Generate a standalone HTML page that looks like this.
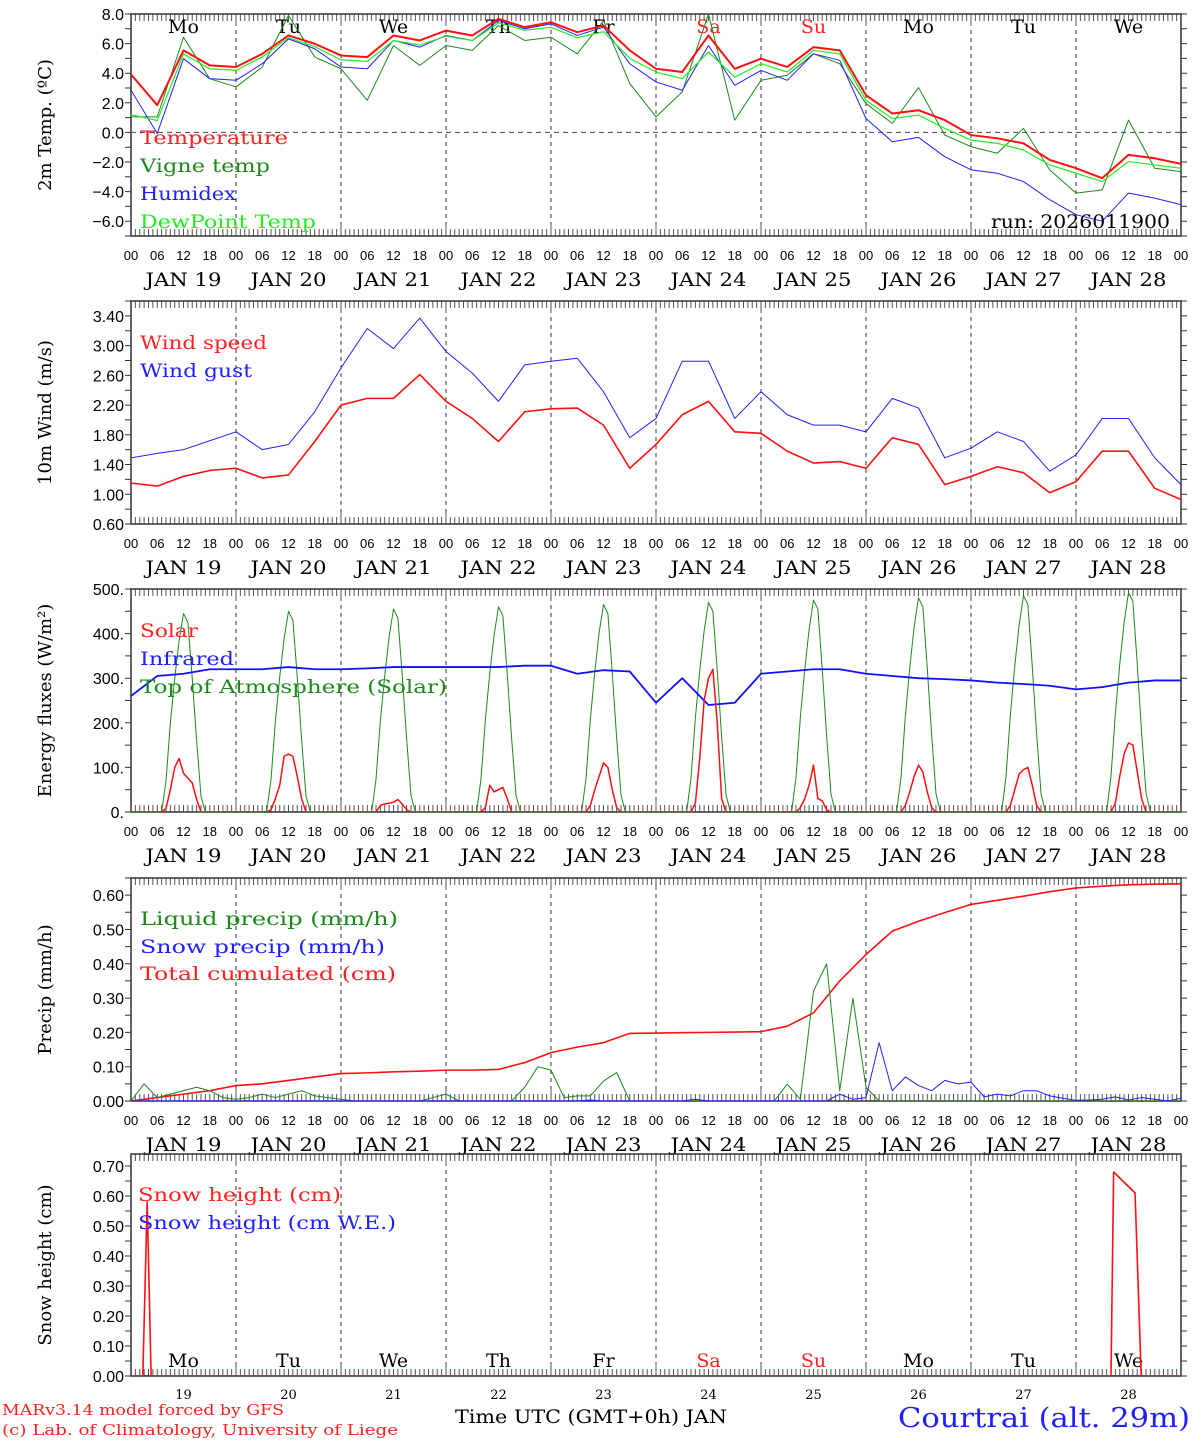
<!DOCTYPE html>
<html><head><meta charset="utf-8"><title>MAR meteogram Courtrai</title>
<style>
html,body{margin:0;padding:0;background:#fff;}
svg{display:block;}
text{font-family:"DejaVu Serif","Liberation Serif",serif;}
.tk{font-family:"Liberation Sans",sans-serif;font-size:13px;}
.yl{font-family:"Liberation Sans",sans-serif;font-size:16px;}
</style></head>
<body>
<svg id="chart" width="1194" height="1440" viewBox="0 0 1194 1440" xmlns="http://www.w3.org/2000/svg"></svg>
<script>
// ---------- data (6-hourly unless noted) ----------
const dayLabels = ["JAN 19","JAN 20","JAN 21","JAN 22","JAN 23","JAN 24","JAN 25","JAN 26","JAN 27","JAN 28"];
const dayNums = ["19","20","21","22","23","24","25","26","27","28"];
const weekdays = ["Mo","Tu","We","Th","Fr","Sa","Su","Mo","Tu","We"];
const hourTicks = ["00","06","12","18"];
const tempVals = [3.92,1.84,5.54,4.53,4.42,5.31,6.55,5.99,5.20,5.09,6.55,6.21,6.88,6.55,7.67,7.11,7.44,6.77,7.22,5.54,4.30,4.08,6.55,4.30,4.98,4.42,5.76,5.54,2.51,1.28,1.50,0.83,-0.18,-0.40,-0.74,-1.86,-2.42,-3.09,-1.52,-1.75,-2.13];
const vigneVals = [1.05,1.05,6.43,3.63,3.07,4.42,7.9,5.09,4.30,2.17,5.87,4.53,5.87,5.54,7.22,6.21,6.43,5.31,7.55,3.30,1.05,2.74,8.0,0.83,3.52,3.86,5.31,4.64,1.95,0.61,3.03,-0.18,-0.96,-1.41,0.27,-2.53,-4.10,-3.88,0.83,-2.42,-2.65];
const humidexVals = [2.85,-0.07,4.98,3.63,3.52,4.64,6.32,5.65,4.42,4.30,6.21,5.76,6.55,6.21,7.56,7.0,7.33,6.55,7.11,4.64,3.41,2.85,5.87,3.18,4.19,3.52,5.31,4.87,0.94,-0.63,-0.34,-1.64,-2.53,-2.76,-3.32,-4.55,-5.56,-6.0,-4.1,-4.44,-4.89];
const dewVals = [1.2,0.8,5.3,4.3,4.2,5.1,6.4,5.8,4.9,4.8,6.2,5.9,6.5,6.2,7.4,6.9,7.1,6.4,6.8,5.0,4.08,3.63,5.43,3.74,4.64,4.08,5.54,5.31,2.17,0.94,1.17,0.27,-0.52,-0.74,-1.19,-2.2,-2.76,-3.32,-1.97,-2.2,-2.42];
const windVals = [1.15,1.11,1.24,1.32,1.35,1.22,1.26,1.71,2.20,2.29,2.29,2.61,2.25,2.02,1.71,2.11,2.15,2.16,1.93,1.35,1.67,2.07,2.25,1.84,1.82,1.58,1.42,1.44,1.35,1.76,1.67,1.13,1.24,1.37,1.29,1.02,1.17,1.58,1.58,1.08,0.93];
const gustVals = [1.49,1.55,1.60,1.72,1.84,1.60,1.67,2.11,2.70,3.23,2.96,3.37,2.92,2.63,2.25,2.74,2.79,2.83,2.38,1.76,2.02,2.79,2.79,2.02,2.38,2.07,1.93,1.93,1.84,2.29,2.16,1.49,1.62,1.84,1.71,1.31,1.53,2.02,2.02,1.49,1.13];
const irVals = [260,305,310,320,320,320,325,320,320,322,325,325,325,325,325,328,328,310,318,315,245,300,240,245,310,315,320,320,310,305,300,298,295,290,287,283,275,280,290,295,295];
// fluxes: hourly values for hours 07..17 of each day (zero otherwise)
const solarDays = [
 [0,8,50,100,120,87,76,65,28,0,0],[0,5,30,60,125,130,125,80,30,0,0],[0,0,15,18,20,22,28,18,5,0,0],
 [0,0,10,60,45,50,55,30,0,0,0],[0,0,15,50,80,110,100,50,10,0,0],[0,0,20,120,250,300,320,200,30,0,0],
 [0,0,10,30,60,105,30,25,5,0,0],[0,0,15,45,80,105,90,45,10,0,0],[0,0,15,50,85,95,100,60,15,0,0],
 [0,0,20,80,130,155,150,90,30,0,0]];
const toaDays = [
 [0,70,200,300,385,445,425,300,160,35,0],[0,72,203,303,389,450,430,303,162,36,0],[0,73,205,306,393,455,435,306,164,37,0],
 [0,74,207,310,397,460,440,310,165,38,0],[0,75,209,313,402,465,445,313,167,38,0],[0,76,211,317,406,470,450,317,169,39,0],
 [0,77,213,320,410,475,455,320,171,40,0],[0,78,216,323,415,480,460,323,173,41,0],[0,79,218,327,419,485,465,327,175,42,0],
 [0,80,221,332,425,492,472,332,177,43,0]];
const cumVals = [0,0.01,0.02,0.03,0.045,0.05,0.06,0.07,0.08,0.082,0.085,0.087,0.09,0.09,0.092,0.112,0.141,0.157,0.17,0.197,0.198,0.199,0.2,0.201,0.202,0.218,0.257,0.35,0.427,0.495,0.524,0.549,0.573,0.585,0.597,0.61,0.621,0.626,0.63,0.632,0.633];
// 3-hourly
const liquidVals = [0,0.05,0.01,0.02,0.03,0.04,0.03,0.01, 0.005,0.01,0.02,0.01,0.02,0.03,0.015,0.01, 0.005,0,0,0,0,0,0,0.01, 0.02,0,0,0,0,0,0.04,0.10, 0.09,0.01,0.015,0.015,0.058,0.083,0,0, 0,0,0,0,0,0,0,0, 0,0,0.049,0.005,0.32,0.40,0.03,0.30, 0.04,0,0,0,0,0,0,0, 0,0,0,0,0,0,0,0, 0,0,0,0,0,0,0,0, 0];
const snowPrecipVals = [0,0,0,0,0,0,0,0, 0,0,0,0,0,0,0,0, 0,0,0,0,0,0,0,0, 0,0,0,0,0,0,0,0, 0,0,0,0.003,0,0,0,0, 0,0,0,0.005,0,0,0,0, 0,0,0,0,0,0,0.02,0.005, 0.01,0.17,0.03,0.07,0.045,0.03,0.06,0.05, 0.055,0.012,0.02,0.015,0.03,0.03,0.015,0.008, 0.002,0.003,0.005,0.012,0.003,0.01,0.005,0, 0.008];
// snow height: event times (hours from JAN 19 00) and values
const snowHours = [0,2.7,3.7,4.6,224.0,224.6,229.5,230.9,240];
const snowHeightVals = [0,0,0.58,0,0,0.68,0.61,0,0];
const snowWEHours = [0,240];
const snowWEVals = [0,0];

// ---------- layout ----------
const svg = document.getElementById('chart');
const NS = 'http://www.w3.org/2000/svg';
const X0 = 131, PXH = 4.375;
function xOf(h){ return X0 + h*PXH; }
function mk(tag, attrs, parent){
  const e = document.createElementNS(NS, tag);
  for (const k in attrs) e.setAttribute(k, attrs[k]);
  (parent||svg).appendChild(e);
  return e;
}
const panels = [
 {top:14, bot:236, min:-7, max:8},
 {top:301, bot:524, min:0.6, max:3.6},
 {top:589, bot:812, min:0, max:500},
 {top:878, bot:1101, min:0, max:0.65},
 {top:1154, bot:1376, min:0, max:0.74}
];
function yOf(p, v){ return p.bot - (v - p.min)/(p.max - p.min)*(p.bot - p.top); }

const panelNames = ['temperature-panel','wind-panel','energy-flux-panel','precip-panel','snow-height-panel'];
const yTicks = [
 {vals:[8,6,4,2,0,-2,-4,-6], fmt:v=>v.toFixed(1).replace('-','\u2212'), minor:1},
 {vals:[3.4,3.0,2.6,2.2,1.8,1.4,1.0,0.6], fmt:v=>v.toFixed(2), minor:0.2},
 {vals:[500,400,300,200,100,0], fmt:v=>v+'.', minor:50},
 {vals:[0.6,0.5,0.4,0.3,0.2,0.1,0], fmt:v=>v.toFixed(2), minor:0.05},
 {vals:[0.7,0.6,0.5,0.4,0.3,0.2,0.1,0], fmt:v=>v.toFixed(2), minor:0.05}
];
const yTitles = ['2m Temp. (\u00baC)','10m Wind (m/s)','Energy fluxes (W/m\u00b2)','Precip (mm/h)','Snow height (cm)'];

panels.forEach((p, i) => {
  const g = mk('g', {});
  
  
  const cp = mk('clipPath', {id:'clip'+i}, g);
  mk('rect', {x:X0, y:p.top, width:1050, height:p.bot-p.top}, cp);
  // day grid
  for (let d = 1; d < 10; d++) {
    const gl = mk('line', {x1:xOf(d*24), x2:xOf(d*24), y1:p.top, y2:p.bot, stroke:'#333', 'stroke-width':1, 'stroke-dasharray':'4,4'}, g);
    
    
  }
  // hour ticks
  let tk = '';
  for (let h = 0; h <= 240; h++) {
    const len = (h % 24 === 0) ? 12 : 7;
    tk += `M${xOf(h)},${p.top}v${len}M${xOf(h)},${p.bot}v${-len}`;
  }
  const ticks = mk('path', {d:tk, stroke:'#555', 'stroke-width':1, fill:'none'}, g);
  
  
  // y ticks
  const yt = yTicks[i];
  let ytp = '';
  for (let v = p.min; v <= p.max + 1e-9; v += yt.minor) {
    const y = yOf(p, v);
    ytp += `M${X0-6},${y}h6M${1181},${y}h6`;
  }
  mk('path', {d:ytp, stroke:'#333', 'stroke-width':1}, g);
  yt.vals.forEach(v => {
    const t = mk('text', {x:124, y:yOf(p, v)+6, 'text-anchor':'end', class:'yl', fill:'#000'}, g);
    t.textContent = yt.fmt(v);
    
    
  });
  // frame
  const fr = mk('rect', {x:X0, y:p.top, width:1050, height:p.bot-p.top, fill:'none', stroke:'#333', 'stroke-width':1.5}, g);
  
  
  // y title
  const cy = (p.top + p.bot)/2;
  const yt2 = mk('text', {x:51, y:cy, transform:`rotate(-90 51 ${cy})`, 'text-anchor':'middle', 'font-size':18, fill:'#000'}, g);
  yt2.textContent = yTitles[i];
  
  
  // x labels
  if (i < 4) {
    for (let d = 0; d < 10; d++) {
      hourTicks.forEach((lab, j) => {
        const t = mk('text', {x:xOf(d*24 + j*6), y:p.bot+24, 'text-anchor':'middle', class:'tk', fill:'#000'}, g);
        t.textContent = lab;
        
        
      });
      const dl = mk('text', {x:xOf(d*24+12), y:p.bot+50, 'text-anchor':'middle', 'font-size':19, textLength:76, lengthAdjust:'spacingAndGlyphs', fill:'#000'}, g);
      dl.textContent = dayLabels[d];
      
      
    }
    const t = mk('text', {x:xOf(240), y:p.bot+24, 'text-anchor':'middle', class:'tk', fill:'#000'}, g);
    t.textContent = '00';
    
    
  }
  p.g = g;
});

// zero line in temperature panel
const zl = mk('line', {x1:X0, x2:1181, y1:yOf(panels[0],0), y2:yOf(panels[0],0), stroke:'#444', 'stroke-dasharray':'5,4'}, panels[0].g);



// weekday labels
weekdays.forEach((w, d) => {
  const col = (w === 'Sa' || w === 'Su') ? '#ff2020' : '#000';
  const t1 = mk('text', {x:xOf(d*24+12), y:33, 'text-anchor':'middle', 'font-size':19, fill:col}, panels[0].g);
  t1.textContent = w;
  
  
  const t2 = mk('text', {x:xOf(d*24+12), y:1367, 'text-anchor':'middle', 'font-size':19, fill:col}, panels[4].g);
  t2.textContent = w;
  
  
  const t3 = mk('text', {x:xOf(d*24+12), y:1399, 'text-anchor':'middle', 'font-size':13, fill:'#000'}, panels[4].g);
  t3.textContent = dayNums[d];
  
  
});

// ---------- series ----------
function series(pi, hours, vals, color, w, name){
  const p = panels[pi];
  const pts = vals.map((v, k) => `${xOf(hours[k]).toFixed(2)},${yOf(p, v).toFixed(2)}`).join(' ');
  const el = mk('polyline', {points:pts, fill:'none', stroke:color, 'stroke-width':w, 'stroke-linejoin':'round', 'clip-path':`url(#clip${pi})`}, p.g);
  
  
  return el;
}
const h6 = tempVals.map((_, k) => k*6);
const h3 = liquidVals.map((_, k) => k*3);
series(0, h6, vigneVals, '#1a8a1a', 1, 'vigne-temp-line');
series(0, h6, humidexVals, '#2020ff', 1, 'humidex-line');
series(0, h6, dewVals, '#22ee22', 1.2, 'dewpoint-line');
series(0, h6, tempVals, '#ff1010', 2, 'temperature-line');
series(1, h6, gustVals, '#2020ff', 1, 'wind-gust-line');
series(1, h6, windVals, '#ff1010', 1.6, 'wind-speed-line');
// fluxes hourly from day templates
const hH = [], solarH = [], toaH = [];
for (let d = 0; d < 10; d++) for (let h = 0; h < 24; h++) {
  hH.push(d*24+h);
  solarH.push(h >= 7 && h <= 17 ? solarDays[d][h-7] : 0);
  toaH.push(h >= 7 && h <= 17 ? toaDays[d][h-7] : 0);
}
hH.push(240); solarH.push(0); toaH.push(0);
series(2, hH, toaH, '#1a8a1a', 1, 'toa-solar-line');
series(2, h6, irVals, '#1010ff', 1.8, 'infrared-line');
series(2, hH, solarH, '#ff1010', 1.5, 'solar-line');
series(3, h6, cumVals, '#ff1010', 1.6, 'total-cumulated-line');
series(3, h3, liquidVals, '#1a8a1a', 1, 'liquid-precip-line');
series(3, h3, snowPrecipVals, '#2020ff', 1, 'snow-precip-line');
series(4, snowWEHours, snowWEVals, '#2020ff', 1.5, 'snow-we-line');
series(4, snowHours, snowHeightVals, '#ff1010', 1.6, 'snow-height-line');

// ---------- legends ----------
function legend(pi, y, label, color, len, x){
  const t = mk('text', {x:x||140, y:y, 'font-size':19, fill:color, textLength:len, lengthAdjust:'spacingAndGlyphs'}, panels[pi].g);
  t.textContent = label;
  
  
}
legend(0, 144, 'Temperature', '#ff2020', 148);
legend(0, 172, 'Vigne temp', '#1a8a1a', 130);
legend(0, 200, 'Humidex', '#2020ff', 96);
legend(0, 228, 'DewPoint Temp', '#22ee22', 176);
legend(1, 349, 'Wind speed', '#ff2020', 127);
legend(1, 377, 'Wind gust', '#2020ff', 112);
legend(2, 637, 'Solar', '#ff2020', 58);
legend(2, 665, 'Infrared', '#2020ff', 94);
legend(2, 693, 'Top of Atmosphere (Solar)', '#1a8a1a', 307);
legend(3, 925, 'Liquid precip (mm/h)', '#1a8a1a', 258);
legend(3, 953, 'Snow precip (mm/h)', '#2020ff', 245);
legend(3, 980, 'Total cumulated (cm)', '#ff2020', 256);
legend(4, 1201, 'Snow height (cm)', '#ff2020', 203, 138);
legend(4, 1229, 'Snow height (cm W.E.)', '#2020ff', 258, 138);

const run = mk('text', {x:1170, y:228, 'text-anchor':'end', 'font-size':19, fill:'#000', textLength:179, lengthAdjust:'spacingAndGlyphs'}, panels[0].g);
run.textContent = 'run: 2026011900';



// ---------- footer ----------
const f1 = mk('text', {x:2, y:1415, 'font-size':15, fill:'#ff2020', textLength:282, lengthAdjust:'spacingAndGlyphs'});
f1.textContent = 'MARv3.14 model forced by GFS';


const f2 = mk('text', {x:2, y:1435, 'font-size':15, fill:'#ff2020', textLength:396, lengthAdjust:'spacingAndGlyphs'});
f2.textContent = '(c) Lab. of Climatology, University of Liege';


const f3 = mk('text', {x:591, y:1423, 'text-anchor':'middle', 'font-size':19, fill:'#000', textLength:272, lengthAdjust:'spacingAndGlyphs'});
f3.textContent = 'Time UTC (GMT+0h) JAN';


const f4 = mk('text', {x:1190, y:1427, 'text-anchor':'end', 'font-size':27, fill:'#2020ff', textLength:292, lengthAdjust:'spacingAndGlyphs'});
f4.textContent = 'Courtrai (alt. 29m)';


</script>
</body></html>
